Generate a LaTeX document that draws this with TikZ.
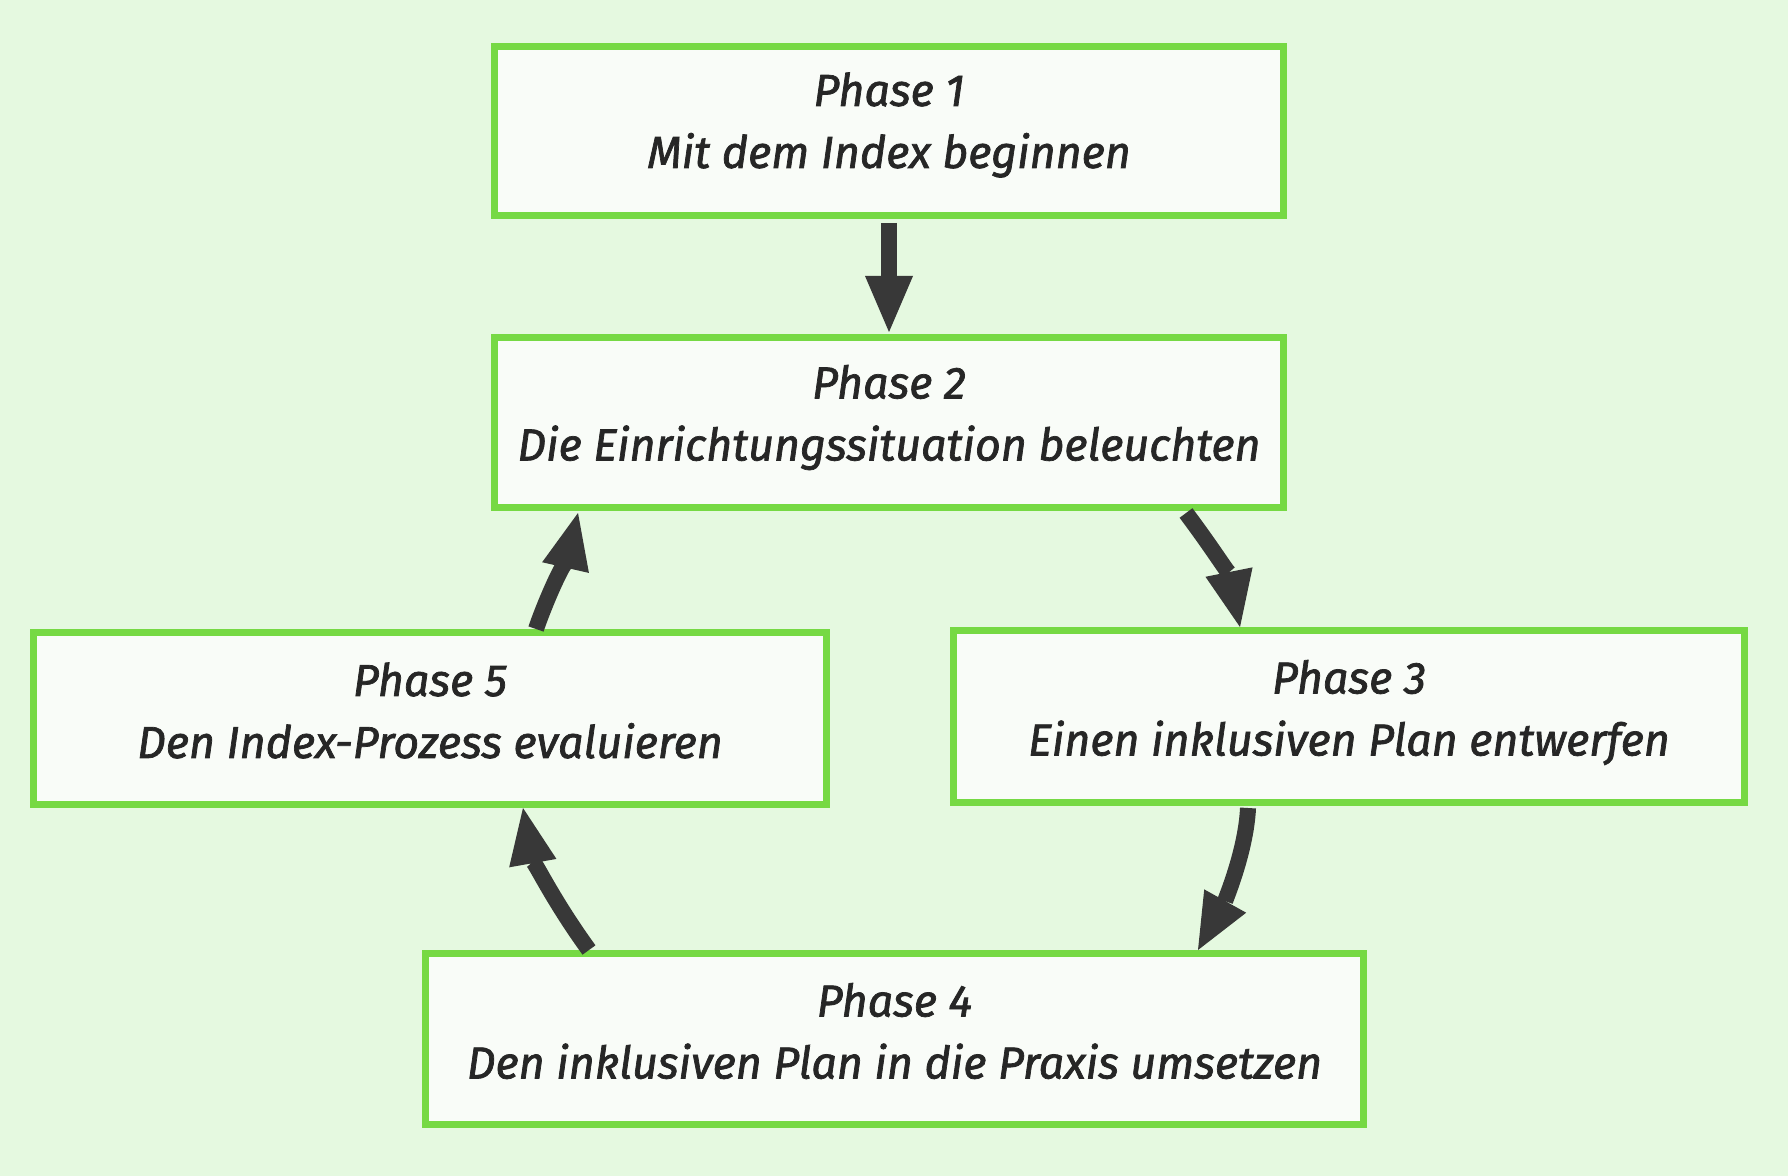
\documentclass[tikz,border=0pt]{standalone}
\usepackage{fontspec}
\setmainfont{Fira Sans}
\newfontfamily\boxfont{Fira Sans}[ItalicFeatures={FakeBold=1.6}]
\usetikzlibrary{arrows.meta,calc}
\definecolor{bg}{HTML}{E5F9E0}
\definecolor{boxgreen}{HTML}{76D944}
\definecolor{boxfill}{HTML}{F9FCF8}
\definecolor{arrowgray}{HTML}{383838}
\definecolor{txt}{HTML}{262626}
\begin{document}
\begin{tikzpicture}[x=0.5pt,y=-0.5pt,
  phasebox/.style={draw=boxgreen, line width=3.5pt, fill=boxfill, rectangle,
    inner sep=0pt},
  phasetext/.style={inner sep=0pt, align=center, text=txt,
    font=\fontsize{22.4}{31}\boxfont\itshape},
  flow/.style={draw=arrowgray, line width=8pt,
    -{Triangle[length=28pt,width=24pt,line width=0pt]}}]
\fill[bg] (0,0) rectangle (1788,1176);
\useasboundingbox (0,0) rectangle (1788,1176);
\node[phasebox, minimum width=394.5pt, minimum height=84.5pt] (B1) at (889,131) {};
\node[phasebox, minimum width=394.5pt, minimum height=85pt] (B2) at (889,422.5) {};
\node[phasebox, minimum width=395.5pt, minimum height=86pt] (B3) at (1349,716.5) {};
\node[phasebox, minimum width=469pt, minimum height=85.5pt] (B4) at (894.5,1039) {};
\node[phasebox, minimum width=396.5pt, minimum height=86pt] (B5) at (430,718.5) {};
\node[phasetext] (T1) at ($(B1.center)+(0,-6)$) {Phase 1\\Mit dem Index beginnen};
\node[phasetext] (T2) at ($(B2.center)+(0,-5)$) {Phase 2\\Die Einrichtungssituation beleuchten};
\node[phasetext] (T3) at ($(B3.center)+(0,-4)$) {Phase 3\\Einen inklusiven Plan entwerfen};
\node[phasetext] (T4) at ($(B4.center)+(0,-8)$) {Phase 4\\Den inklusiven Plan in die Praxis umsetzen};
\node[phasetext] (T5) at ($(B5.center)+(0,-8)$) {Phase 5\\Den Index-Prozess evaluieren};
\draw[flow] ($(B1.south)+(0,4)$) -- ($(B2.north)+(0,-2)$);
\draw[flow] ($(B2.south)+(297,2)$) .. controls +(30,40) and +(-10,-50) .. ($(B3.north)+(-109,0)$);
\draw[flow] ($(B3.south)+(-101,2)$) .. controls +(-2,45) and +(25,-45) .. ($(B4.north)+(303.5,0)$);
\draw[flow] ($(B4.north)+(-305.5,0)$) .. controls +(-40,-55) and +(8,45) .. ($(B5.south)+(93,0)$);
\draw[flow] ($(B5.north)+(106,0)$) .. controls +(12,-35) and +(-8,35) .. ($(B2.south)+(-311,2)$);
\end{tikzpicture}
\end{document}
